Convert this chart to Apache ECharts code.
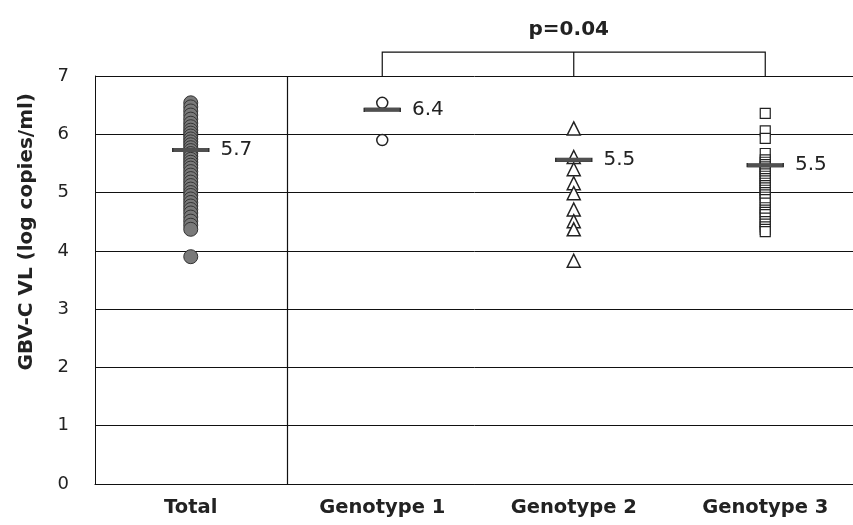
<!DOCTYPE html>
<html>
<head>
<meta charset="utf-8">
<script src="https://cdn.jsdelivr.net/npm/echarts@6/dist/echarts.min.js"></script>
<style>
html,body{margin:0;padding:0;background:#fff;overflow:hidden;}
#chart{width:853px;height:525px;}
</style>
</head>
<body>
<div id="chart"></div>
<script>
// ---- data ----
var categories = ['Total', 'Genotype 1', 'Genotype 2', 'Genotype 3'];
var yTicks = [0, 1, 2, 3, 4, 5, 6, 7];
var totalValues = [6.54, 6.47, 6.4, 6.33, 6.26, 6.19, 6.13, 6.07, 6.02, 5.97, 5.92, 5.87, 5.82, 5.77, 5.72, 5.67, 5.62, 5.57, 5.52, 5.47, 5.42, 5.36, 5.3, 5.24, 5.18, 5.12, 5.06, 5.0, 4.95, 4.89, 4.83, 4.77, 4.71, 4.65, 4.58, 4.51, 4.44, 4.37, 3.90];
var genotype1Values = [6.54, 5.90];
var genotype2Values = [6.10, 5.61, 5.40, 5.16, 4.99, 4.71, 4.51, 4.37, 3.83];
var genotype3Values = [6.36, 6.06, 5.93, 5.67, 5.56, 5.52, 5.48, 5.44, 5.4, 5.36, 5.32, 5.28, 5.24, 5.2, 5.16, 5.12, 5.08, 5.04, 5.0, 4.96, 4.92, 4.88, 4.82, 4.74, 4.7, 4.66, 4.62, 4.56, 4.5, 4.46, 4.41, 4.37, 4.33];
var meanValues = [5.73, 6.42, 5.56, 5.47];
var meanLabels = ['5.7', '6.4', '5.5', '5.5'];
var pText = 'p=0.04';
var bracketFrom = 1, bracketMid = 2, bracketTo = 3;
var bracketLevel = 7.41, pTextLevel = 7.79, bracketBase = 7;
var separatorBetween = [0, 1];

function pts(cat, arr){ return arr.map(function(v){ return [cat, v]; }); }

var chart = echarts.init(document.getElementById('chart'));
var FONT = 'DejaVu Sans';

chart.setOption({
  animation: false,
  backgroundColor: '#fff',
  grid: { left: 95, width: 766, top: 76, bottom: 41, containLabel: false, outerBoundsMode: 'none' },
  xAxis: {
    type: 'category',
    data: categories,
    boundaryGap: true,
    axisLine: { show: true, lineStyle: { color: '#111', width: 1 } },
    axisTick: { show: false },
    axisLabel: { fontFamily: FONT, fontWeight: 'bold', fontSize: 19.5, color: '#222', margin: 14 },
    splitLine: { show: false }
  },
  yAxis: {
    type: 'value',
    min: yTicks[0], max: yTicks[yTicks.length - 1], interval: 1,
    axisLine: { show: true, lineStyle: { color: '#111', width: 1 } },
    axisTick: { show: false },
    axisLabel: { fontFamily: FONT, fontSize: 18, color: '#222', margin: 26 },
    splitLine: { show: true, lineStyle: { color: '#111', width: 1 } }
  },
  graphic: [{
    type: 'text',
    left: 17, top: 93,
    rotation: Math.PI / 2,
    originX: 0, originY: 0,
    style: { text: 'GBV-C VL (log copies/ml)', fontFamily: FONT, fontWeight: 'bold', fontSize: 20, fill: '#222' }
  }],
  series: [
    {
      type: 'scatter', name: 'Total', data: pts(0, totalValues),
      symbol: 'circle', symbolSize: 14,
      itemStyle: { color: '#7a7a7a', borderColor: '#333', borderWidth: 1, opacity: 1 }, z: 3
    },
    {
      type: 'scatter', name: 'Genotype 1', data: pts(1, genotype1Values),
      symbol: 'circle', symbolSize: 11,
      itemStyle: { color: '#fff', borderColor: '#222', borderWidth: 1.5, opacity: 1 }, z: 3
    },
    {
      type: 'scatter', name: 'Genotype 2', data: pts(2, genotype2Values),
      symbol: 'triangle', symbolSize: 13,
      itemStyle: { color: '#fff', borderColor: '#222', borderWidth: 1.5, opacity: 1 }, z: 3
    },
    {
      type: 'scatter', name: 'Genotype 3', data: pts(3, genotype3Values),
      symbol: 'rect', symbolSize: 10,
      itemStyle: { color: '#fff', borderColor: '#222', borderWidth: 1.2, opacity: 1 }, z: 3
    },
    {
      type: 'scatter', name: 'mean',
      data: meanValues.map(function(v, i){ return { value: [i, v], label: { formatter: meanLabels[i] } }; }),
      symbol: 'rect', symbolSize: [36, 4],
      itemStyle: { color: '#505050', borderColor: '#333', borderWidth: 0.5, opacity: 1 },
      label: { show: true, position: 'right', distance: 11, fontFamily: FONT, fontSize: 20, color: '#222' },
      z: 5
    },
    {
      type: 'custom', name: 'bracket', clip: false, silent: true,
      data: [[0]],
      renderItem: function(params, api){
        var a = api.coord([bracketFrom, bracketBase]);
        var a2 = api.coord([bracketFrom, bracketLevel]);
        var c2 = api.coord([bracketTo, bracketLevel]);
        var c = api.coord([bracketTo, bracketBase]);
        var m = api.coord([bracketMid, bracketBase]);
        var m2 = api.coord([bracketMid, bracketLevel]);
        var t = api.coord([bracketMid, pTextLevel]);
        var p0 = api.coord([separatorBetween[0], yTicks[0]]);
        var p1 = api.coord([separatorBetween[1], yTicks[yTicks.length - 1]]);
        var sx = Math.round((p0[0] + p1[0]) / 2) + 0.5;
        return {
          type: 'group',
          children: [
            { type: 'line', shape: { x1: sx, y1: p0[1], x2: sx, y2: p1[1] }, style: { stroke: '#111', lineWidth: 1.2 } },
            { type: 'polyline', shape: { points: [a, a2, c2, c] }, style: { stroke: '#111', lineWidth: 1.2, fill: null } },
            { type: 'line', shape: { x1: m[0], y1: m[1], x2: m2[0], y2: m2[1] }, style: { stroke: '#111', lineWidth: 1.2 } },
            { type: 'text', x: t[0] - 5, y: t[1], style: { text: pText, fontFamily: FONT, fontWeight: 'bold', fontSize: 20, fill: '#222', align: 'center', verticalAlign: 'middle' } }
          ]
        };
      }
    }
  ]
});
</script>
</body>
</html>
